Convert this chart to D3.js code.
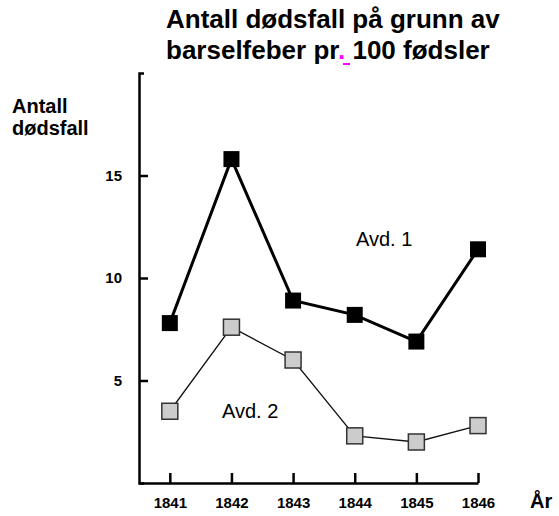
<!DOCTYPE html>
<html>
<head>
<meta charset="utf-8">
<script src="https://cdn.jsdelivr.net/npm/d3@7"></script>
<style>
  body { margin: 0; background: #fff; }
  text { font-family: "Liberation Sans", Arial, sans-serif; }
</style>
</head>
<body>
<div id="chart"></div>
<script>
var width = 559, height = 516;

// data
var years = [1841, 1842, 1843, 1844, 1845, 1846];
var avd1 = [7.8, 15.8, 8.9, 8.2, 6.9, 11.4];
var avd2 = [3.5, 7.6, 6.0, 2.3, 2.0, 2.8];
var yTicks = [5, 10, 15];

var svg = d3.select("#chart")
            .append("svg")
            .attr("width", width)
            .attr("height", height);

// scales
var x = d3.scaleLinear()
          .domain([1840.5, 1846])
          .range([139, 478]);

var y = d3.scaleLinear()
          .domain([0, 20])
          .range([483, 73]);

// title
var title = svg.append("text")
               .attr("font-size", 26)
               .attr("font-weight", "bold");
title.append("tspan").attr("x", 166).attr("y", 28).text("Antall dødsfall på grunn av");
var line2 = title.append("tspan").attr("x", 166).attr("y", 59);
line2.append("tspan").text("barselfeber pr");
line2.append("tspan").attr("fill", "#ff00ff").text(".");
line2.append("tspan").text(" 100 fødsler");

// pink squiggle under the dot
svg.append("rect")
   .attr("x", 343).attr("y", 63)
   .attr("width", 7).attr("height", 2)
   .attr("fill", "#ff00ff");

// y axis
var yAxis = d3.axisLeft(y)
              .tickValues(yTicks)
              .tickSize(-9)
              .tickSizeOuter(-5)
              .tickPadding(17);

var gy = svg.append("g")
            .attr("transform", "translate(139,0)")
            .call(yAxis);
gy.select(".domain").attr("stroke-width", 2.5);
gy.selectAll(".tick line").attr("stroke-width", 2.5);
gy.selectAll(".tick text")
  .attr("font-family", "'Liberation Serif', 'Times New Roman', serif")
  .attr("font-weight", "bold")
  .attr("font-size", 15);

// x axis
var xAxis = d3.axisBottom(x)
              .tickValues(years)
              .tickFormat(d3.format("d"))
              .tickSize(-10)
              .tickSizeOuter(0)
              .tickPadding(14);

var gx = svg.append("g")
            .attr("transform", "translate(0,483)")
            .call(xAxis);
gx.select(".domain").attr("stroke-width", 2.5);
gx.selectAll(".tick line").attr("stroke-width", 2.5);
gx.selectAll(".tick text")
  .attr("font-family", "'Liberation Sans', Arial, sans-serif")
  .attr("font-weight", "bold")
  .attr("font-size", 15);

// axis titles
var ylab = svg.append("text")
              .attr("font-size", 20)
              .attr("font-weight", "bold");
ylab.append("tspan").attr("x", 12).attr("y", 113).text("Antall");
ylab.append("tspan").attr("x", 12).attr("y", 135).text("dødsfall");

svg.append("text")
   .attr("x", 530).attr("y", 508)
   .attr("font-size", 20)
   .attr("font-weight", "bold")
   .text("År");

// lines
var line = d3.line()
             .x(function(d, i) { return x(years[i]); })
             .y(function(d) { return y(d); });

svg.append("path")
   .datum(avd2)
   .attr("d", line)
   .attr("fill", "none")
   .attr("stroke", "#111")
   .attr("stroke-width", 1.3);

svg.append("path")
   .datum(avd1)
   .attr("d", line)
   .attr("fill", "none")
   .attr("stroke", "#000")
   .attr("stroke-width", 3);

// markers
var size = 16;
svg.selectAll(".m2")
   .data(avd2)
   .enter()
   .append("rect")
   .attr("class", "m2")
   .attr("x", function(d, i) { return x(years[i]) - size / 2; })
   .attr("y", function(d) { return y(d) - size / 2; })
   .attr("width", size)
   .attr("height", size)
   .attr("fill", "#cccccc")
   .attr("stroke", "#333")
   .attr("stroke-width", 1.5);

svg.selectAll(".m1")
   .data(avd1)
   .enter()
   .append("rect")
   .attr("class", "m1")
   .attr("x", function(d, i) { return x(years[i]) - size / 2; })
   .attr("y", function(d) { return y(d) - size / 2; })
   .attr("width", size)
   .attr("height", size)
   .attr("fill", "#000");

// series labels
svg.append("text")
   .attr("x", 356).attr("y", 246)
   .attr("font-size", 20)
   .text("Avd. 1");

svg.append("text")
   .attr("x", 222).attr("y", 418)
   .attr("font-size", 20)
   .text("Avd. 2");
</script>
</body>
</html>
